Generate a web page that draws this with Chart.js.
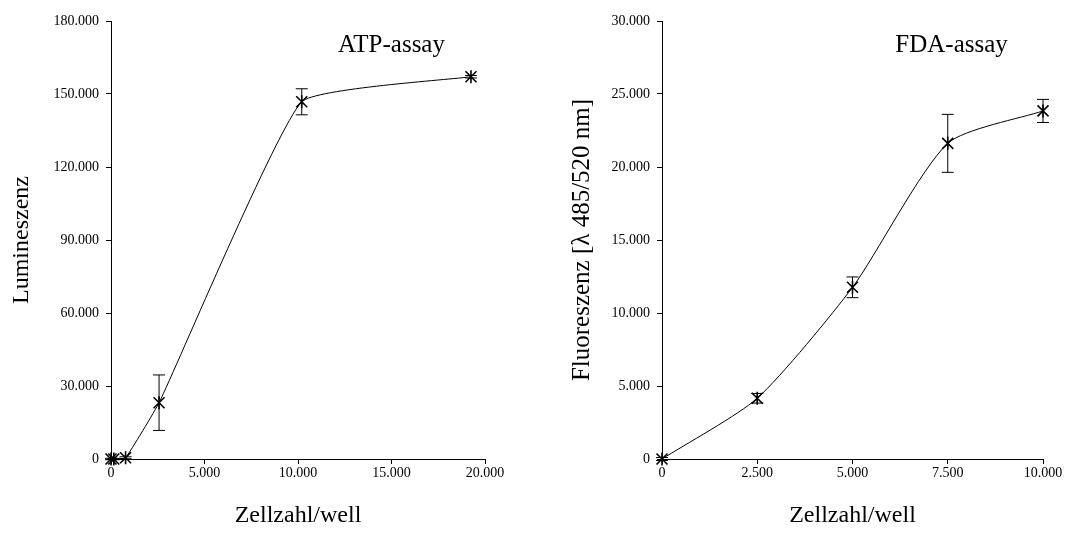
<!DOCTYPE html>
<html>
<head>
<meta charset="utf-8">
<script src="https://cdn.jsdelivr.net/npm/chart.js@4"></script>
<style>
  html, body { margin: 0; padding: 0; background: #fff; }
  .row { display: flex; width: 1090px; height: 533px; }
  .cell { width: 545px; height: 533px; }
</style>
</head>
<body>
<div class="row">
  <div class="cell"><canvas id="atp" width="545" height="533"></canvas></div>
  <div class="cell"><canvas id="fda" width="545" height="533"></canvas></div>
</div>
<script>
// ATP assay: luminescence vs. cells per well
const atpCells = [0, 150, 780, 2570, 10200, 19250];
const atpLum = [0, 0, 500, 23140, 146800, 157100];
const atpErr = [300, 300, 400, 11400, 5350, 500];
const atpXTicks = [0, 5000, 10000, 15000, 20000];
const atpYTicks = [0, 30000, 60000, 90000, 120000, 150000, 180000];

// FDA assay: fluorescence vs. cells per well
const fdaCells = [0, 2500, 5000, 7500, 10000];
const fdaFluo = [0, 4160, 11760, 21620, 23840];
const fdaErr = [100, 330, 710, 1985, 790];
const fdaXTicks = [0, 2500, 5000, 7500, 10000];
const fdaYTicks = [0, 5000, 10000, 15000, 20000, 25000, 30000];

const SERIF = "'Liberation Serif', 'Times New Roman', serif";
Chart.defaults.color = '#000';
Chart.defaults.font.family = SERIF;

const fmt = (v) => v.toLocaleString('de-DE');

// error bars, asterisk markers and the assay caption
const starsAndErrors = {
  id: 'starsAndErrors',
  afterDatasetsDraw(chart, args, opts) {
    const { ctx, scales: { x, y } } = chart;
    const ds = chart.data.datasets[0];
    const pts = chart.getDatasetMeta(0).data;
    ctx.save();
    ctx.strokeStyle = '#000';
    pts.forEach((pt, i) => {
      const v = ds.data[i].y;
      const e = opts.errors[i];
      const top = y.getPixelForValue(v + e);
      const bot = y.getPixelForValue(v - e);
      ctx.lineWidth = 1;
      ctx.beginPath();
      ctx.moveTo(pt.x, top); ctx.lineTo(pt.x, bot);
      ctx.moveTo(pt.x - 6, top); ctx.lineTo(pt.x + 6, top);
      ctx.moveTo(pt.x - 6, bot); ctx.lineTo(pt.x + 6, bot);
      ctx.stroke();

      const r = 5.5;
      ctx.lineWidth = 1.6;
      ctx.beginPath();
      ctx.moveTo(pt.x - r, pt.y - r); ctx.lineTo(pt.x + r, pt.y + r);
      ctx.moveTo(pt.x - r, pt.y + r); ctx.lineTo(pt.x + r, pt.y - r);
      ctx.moveTo(pt.x, pt.y - r - 1); ctx.lineTo(pt.x, pt.y + r + 1);
      ctx.stroke();
    });
    ctx.fillStyle = '#000';
    ctx.font = '25px ' + SERIF;
    ctx.textAlign = 'center';
    ctx.textBaseline = 'middle';
    ctx.fillText(opts.caption, x.getPixelForValue(opts.captionAt[0]), y.getPixelForValue(opts.captionAt[1]));
    ctx.restore();
  }
};

function makeChart(id, cfg) {
  const a = cfg.area;
  new Chart(document.getElementById(id), {
    type: 'line',
    data: {
      datasets: [{
        data: cfg.xs.map((x, i) => ({ x, y: cfg.ys[i] })),
        borderColor: '#000',
        borderWidth: 1,
        tension: cfg.tension,
        pointRadius: 0,
        fill: false,
      }],
    },
    options: {
      responsive: false,
      animation: false,
      devicePixelRatio: 1,
      layout: { padding: { left: 0, top: a.top, right: 545 - a.right, bottom: 0 } },
      plugins: {
        legend: { display: false },
        tooltip: { enabled: false },
        starsAndErrors: { errors: cfg.errs, caption: cfg.caption, captionAt: cfg.captionAt },
      },
      scales: {
        x: {
          type: 'linear',
          min: cfg.xTicks[0],
          max: cfg.xTicks[cfg.xTicks.length - 1],
          afterBuildTicks: (s) => { s.ticks = cfg.xTicks.map((value) => ({ value })); },
          afterFit: (s) => { s.height = 533 - a.bottom; s.paddingLeft = 0; s.paddingRight = 0; },
          grid: { drawOnChartArea: false, color: '#000', tickLength: 5 },
          border: { color: '#000', width: 1 },
          ticks: { font: { size: 14 }, padding: 1, maxRotation: 0, callback: (v) => fmt(v) },
          title: { display: true, text: 'Zellzahl/well', font: { size: 24 }, padding: { top: 0, bottom: 3 } },
        },
        y: {
          type: 'linear',
          min: cfg.yTicks[0],
          max: cfg.yTicks[cfg.yTicks.length - 1],
          afterBuildTicks: (s) => { s.ticks = cfg.yTicks.map((value) => ({ value })); },
          afterFit: (s) => { s.width = a.left; s.paddingTop = 0; s.paddingBottom = 0; },
          grid: { drawOnChartArea: false, color: '#000', tickLength: 5 },
          border: { color: '#000', width: 1 },
          ticks: { font: { size: 14 }, padding: 7, callback: (v) => fmt(v) },
          title: { display: true, text: cfg.yTitle, font: { size: cfg.yTitleSize }, padding: { top: cfg.yTitlePad, bottom: 0 } },
        },
      },
    },
    plugins: [starsAndErrors],
  });
}

makeChart('atp', {
  xs: atpCells, ys: atpLum, errs: atpErr, tension: 0.12,
  xTicks: atpXTicks, yTicks: atpYTicks,
  yTitle: 'Lumineszenz', yTitleSize: 24, yTitlePad: 7.6,
  caption: 'ATP-assay', captionAt: [15000, 170000],
  area: { left: 111, right: 485, top: 21, bottom: 459 },
});

makeChart('fda', {
  xs: fdaCells, ys: fdaFluo, errs: fdaErr, tension: 0.22,
  xTicks: fdaXTicks, yTicks: fdaYTicks,
  yTitle: 'Fluoreszenz [λ 485/520 nm]', yTitleSize: 25, yTitlePad: 22,
  caption: 'FDA-assay', captionAt: [7600, 28350],
  area: { left: 117, right: 498, top: 21, bottom: 459 },
});
</script>
</body>
</html>
